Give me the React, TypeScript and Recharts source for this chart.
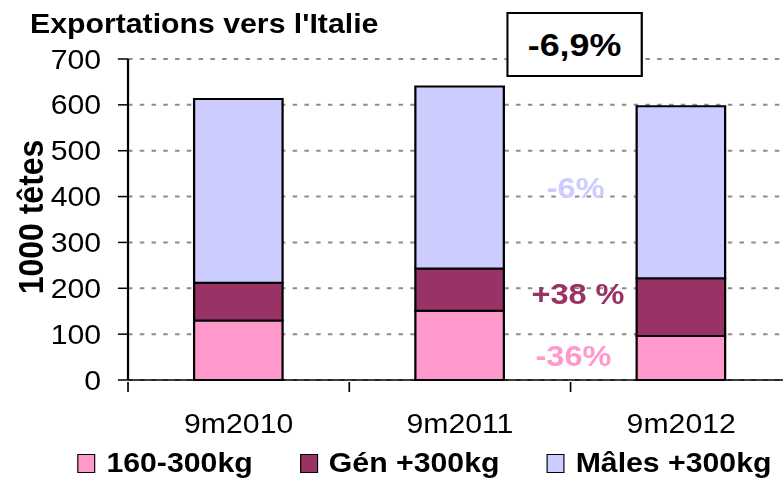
import React from 'react';
import { BarChart, Bar, XAxis, YAxis, CartesianGrid, Legend } from 'recharts';

const categories = ['9m2010', '9m2011', '9m2012'];
const light = [130, 151, 96];
const gen = [82, 92, 126];
const males = [401, 397, 375];
const yTicks = [0, 100, 200, 300, 400, 500, 600, 700];
const seriesNames = ['160-300kg', 'Gén +300kg', 'Mâles +300kg'];
const title = "Exportations vers l'Italie";
const totalChange = '-6,9%';
const annotations = [
  { text: '-6%', color: '#CCCCFF', x: 514, y: 188 },
  { text: '+38 %', color: '#993366', x: 516, y: 294 },
  { text: '-36%', color: '#FF99CC', x: 512, y: 356 },
];

const data = categories.map((c, i) => ({ cat: c, light: light[i], gen: gen[i], males: males[i] }));

const FONT = '"Liberation Sans", Arial, sans-serif';
const SX = 1.12;
const W = 716;
const H = 483;
const M = { top: 59, right: 9, bottom: 0, left: 0 };
const YW = 114.3;
const PLOT_W = W - M.left - M.right - YW;
const HALF = PLOT_W / categories.length / 2;

const XTick = (props: any) => {
  const { x, y, payload, index } = props;
  return (
    <g>
      {index === 0 && <line x1={x - HALF} x2={x - HALF} y1={y} y2={y + 10} stroke="#000" strokeWidth={1.5} />}
      <line x1={x + HALF} x2={x + HALF} y1={y} y2={y + 10} stroke="#000" strokeWidth={1.5} />
      <text x={x} y={y + 32} dy="0.71em" textAnchor="middle" fontSize={27} fontFamily={FONT} fill="#000">
        {payload.value}
      </text>
    </g>
  );
};

const LegendContent = (props: any) => {
  const { payload } = props;
  return (
    <div style={{ height: 40, display: 'flex', alignItems: 'center', paddingLeft: 69, fontFamily: FONT }}>
      {(payload || []).map((e: any, i: number) => (
        <div key={i} style={{ display: 'flex', alignItems: 'center', marginRight: 42 }}>
          <span style={{ display: 'inline-block', width: 16, height: 19, boxSizing: 'border-box', border: '1.5px solid #000', background: e.color }} />
          <span style={{ marginLeft: 10, fontSize: 27, fontWeight: 'bold', lineHeight: 1, color: '#000', whiteSpace: 'nowrap' }}>{e.value}</span>
        </div>
      ))}
    </div>
  );
};

export default function App() {
  return (
    <div style={{ position: 'fixed', left: 0, top: 0, width: 783, height: 483, overflow: 'hidden', background: '#fff' }}>
      <div style={{ position: 'relative', width: W, height: H, transform: `scaleX(${SX})`, transformOrigin: '0 0' }}>
        <BarChart width={W} height={H} data={data} margin={M}>
          <CartesianGrid vertical={false} stroke="#8c8c8c" strokeWidth={2} strokeDasharray="4 6.5" />
          <XAxis
            dataKey="cat"
            height={63}
            tickSize={0}
            tickLine={false}
            axisLine={{ stroke: '#000', strokeWidth: 1.5 }}
            tick={<XTick />}
            interval={0}
          />
          <YAxis
            width={YW}
            domain={[0, 700]}
            ticks={yTicks}
            interval={0}
            tickSize={9}
            tickMargin={15}
            axisLine={{ stroke: '#000', strokeWidth: 2 }}
            tickLine={{ stroke: '#000', strokeWidth: 1.5 }}
            tick={{ fill: '#000', fontSize: 27, fontFamily: FONT }}
          />
          <Legend verticalAlign="bottom" content={<LegendContent />} />
          <Bar dataKey="light" name={seriesNames[0]} stackId="a" fill="#FF99CC" stroke="#000" strokeWidth={2} barSize={79} isAnimationActive={false} />
          <Bar dataKey="gen" name={seriesNames[1]} stackId="a" fill="#993366" stroke="#000" strokeWidth={2} barSize={79} isAnimationActive={false} />
          <Bar dataKey="males" name={seriesNames[2]} stackId="a" fill="#CCCCFF" stroke="#000" strokeWidth={2} barSize={79} isAnimationActive={false} />
        </BarChart>
        <div style={{ position: 'absolute', left: 26.8, top: 11, fontFamily: FONT, fontWeight: 'bold', fontSize: 27, lineHeight: 1, whiteSpace: 'nowrap', color: '#000' }}>
          {title}
        </div>
        <div style={{ position: 'absolute', left: 452, top: 12, width: 122, height: 65, boxSizing: 'border-box', border: '2px solid #000', background: '#fff', display: 'flex', alignItems: 'center', justifyContent: 'center', fontFamily: FONT, fontWeight: 'bold', fontSize: 32, lineHeight: 1 }}>
          {totalChange}
        </div>
        {annotations.map((a, i) => (
          <div key={i} style={{ position: 'absolute', left: a.x, top: a.y, transform: 'translate(-50%, -50%)', fontFamily: FONT, fontWeight: 'bold', fontSize: 29, lineHeight: 1, color: a.color, whiteSpace: 'nowrap' }}>
            {a.text}
          </div>
        ))}
        <svg style={{ position: 'absolute', left: 0, top: 0 }} width={60} height={H}>
          <text x={27.2} y={217} transform="rotate(-90 27.2 217)" textAnchor="middle" dominantBaseline="central" fontFamily={FONT} fontWeight="bold" fontSize={32} fill="#000">
            1000 têtes
          </text>
        </svg>
      </div>
    </div>
  );
}
